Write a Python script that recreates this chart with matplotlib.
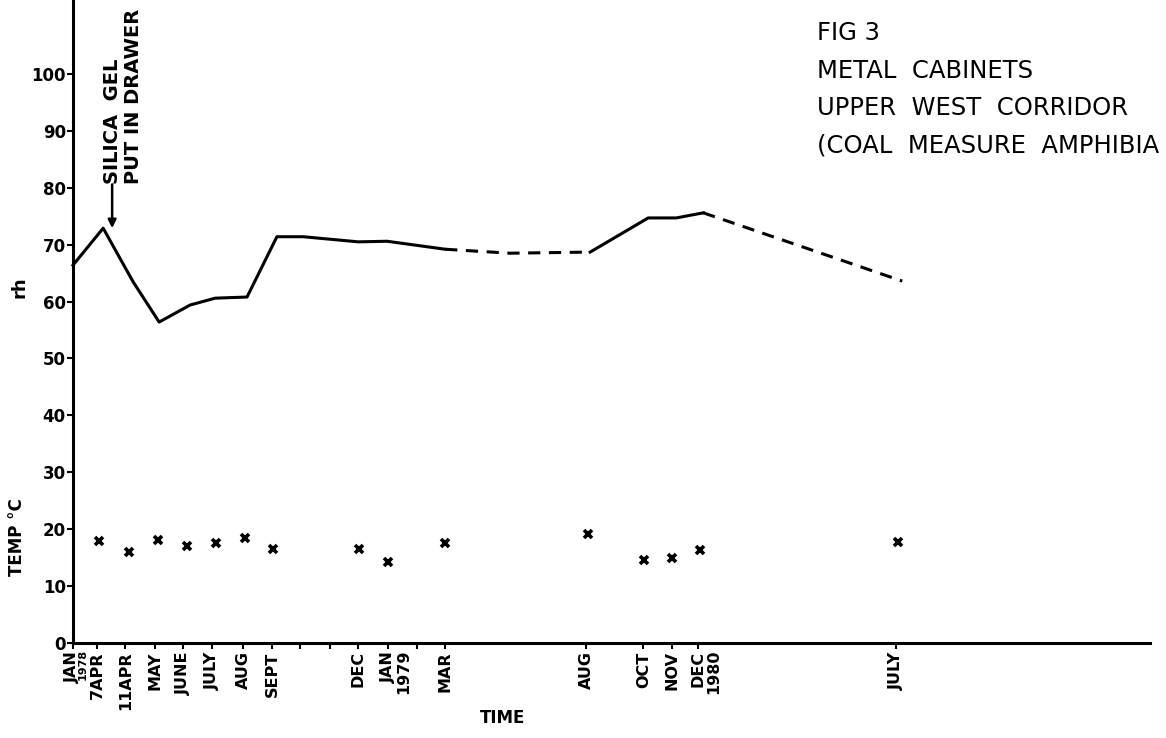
import matplotlib
matplotlib.use("Agg")
import matplotlib.pyplot as plt

# x is measured in tick steps along the (non-linear) time axis
tick_pos = [0.16, 1.0, 1.97, 3.0, 3.97, 4.97, 6.03, 7.03, 8.0, 9.03, 10.0,
            11.03, 12.03, 13.0, 17.86, 19.83, 20.83, 21.72, 28.55]
tick_labels = ['JAN', '7APR', '11APR', 'MAY', 'JUNE', 'JULY', 'AUG', 'SEPT',
               '', '', 'DEC', 'JAN', '', 'MAR', 'AUG', 'OCT', 'NOV', 'DEC', 'JULY']
year_labels = ['1978', '', '', '', '', '', '', '', '', '', '', '1979', '', '',
               '', '', '', '1980', '']

# relative humidity, solid and dashed (estimated) stretches
rh_x_1 = [0.17, 1.21, 2.24, 3.14, 4.21, 5.07, 6.17, 7.2, 8.1, 10.0, 11.0, 13.0]
rh_y_1 = [66.4, 72.9, 63.5, 56.4, 59.4, 60.6, 60.8, 71.4, 71.4, 70.5, 70.6, 69.2]
rh_x_2 = [13.0, 15.24, 18.0]
rh_y_2 = [69.2, 68.5, 68.7]
rh_x_3 = [18.0, 20.0, 20.97, 21.9]
rh_y_3 = [68.7, 74.7, 74.7, 75.6]
rh_x_4 = [21.9, 28.76]
rh_y_4 = [75.6, 63.6]

# temperature readings
temp_x = [1.07, 2.1, 3.1, 4.1, 5.1, 6.1, 7.07, 10.03, 11.03, 13.0, 17.93,
          19.86, 20.83, 21.79, 28.62]
temp_y = [18.0, 16.0, 18.1, 17.1, 17.6, 18.5, 16.6, 16.5, 14.2, 17.5, 19.2,
          14.5, 15.0, 16.3, 17.7]

W, H = 1166, 738
fig = plt.figure(figsize=(W / 100, H / 100), dpi=100)
fig.patch.set_facecolor('white')
ax = fig.add_axes([72.7 / W, 95 / H, (1150 - 72.7) / W, 643 / H])

lw = 2.2
dash = (0, (4, 2.8))
ax.plot(rh_x_1, rh_y_1, color='black', lw=lw, clip_on=False)
ax.plot(rh_x_2, rh_y_2, color='black', lw=lw, ls=dash, clip_on=False)
ax.plot(rh_x_3, rh_y_3, color='black', lw=lw, clip_on=False)
ax.plot(rh_x_4, rh_y_4, color='black', lw=lw, ls=dash, clip_on=False)

ax.plot(temp_x, temp_y, ls='none', marker='x', ms=6, mew=2.6, color='black')

ax.set_xlim(0.16, 37.3)
ax.set_ylim(0, 113)

for s in ['top', 'right']:
    ax.spines[s].set_visible(False)
for s in ['left', 'bottom']:
    ax.spines[s].set_linewidth(2.2)

ax.set_yticks(range(0, 101, 10))
ax.set_yticklabels([str(v) for v in range(0, 101, 10)],
                   fontsize=12, fontweight='bold')
ax.tick_params(axis='y', direction='out', length=4, width=1.5, pad=1)

ax.set_xticks(tick_pos)
ax.set_xticklabels(tick_labels, rotation=90, fontsize=11.5, fontweight='bold',
                   va='top', ha='center')
ax.tick_params(axis='x', direction='out', length=4, width=1.5, pad=2)

for xp, yl in zip(tick_pos, year_labels):
    if yl:
        fs, dx = (8, 7.5) if yl == '1978' else (11.5, 11)
        ax.annotate(yl, xy=(xp, 0), xycoords=('data', 'axes fraction'),
                    xytext=(dx, -4.5), textcoords='offset points', rotation=90,
                    ha='center', va='top', fontsize=fs, fontweight='bold',
                    annotation_clip=False)

# silica gel note
ax.annotate('', xy=(1.52, 72.9), xytext=(1.52, 80.6),
            arrowprops=dict(arrowstyle='-|>', lw=1.8, color='black',
                            mutation_scale=12, shrinkA=0, shrinkB=0))
ax.text(1.9, 80.6, 'SILICA  GEL\nPUT IN DRAWER', rotation=90, ha='center',
        va='bottom', multialignment='left', fontsize=14, fontweight='bold',
        linespacing=1.15)

# axis titles
fig.text(19 / W, 1 - 287 / H, 'rh', rotation=90, ha='center', va='center',
         fontsize=13, fontweight='bold')
fig.text(17 / W, 1 - 537 / H, 'TEMP °C', rotation=90, ha='center',
         va='center', fontsize=12, fontweight='bold')
fig.text(503 / W, 1 - 718 / H, 'TIME', ha='center', va='center',
         fontsize=12, fontweight='bold')

# figure caption (last line is cut at the page edge in the scan)
caption = ['FIG 3', 'METAL  CABINETS', 'UPPER  WEST  CORRIDOR',
           '(COAL  MEASURE  AMPHIBIA']
for i, line in enumerate(caption):
    fig.text(817 / W, 1 - (33 + 37.5 * i) / H, line, ha='left', va='center',
             fontsize=17.5)

fig.savefig('out.png', dpi=100, facecolor='white')
